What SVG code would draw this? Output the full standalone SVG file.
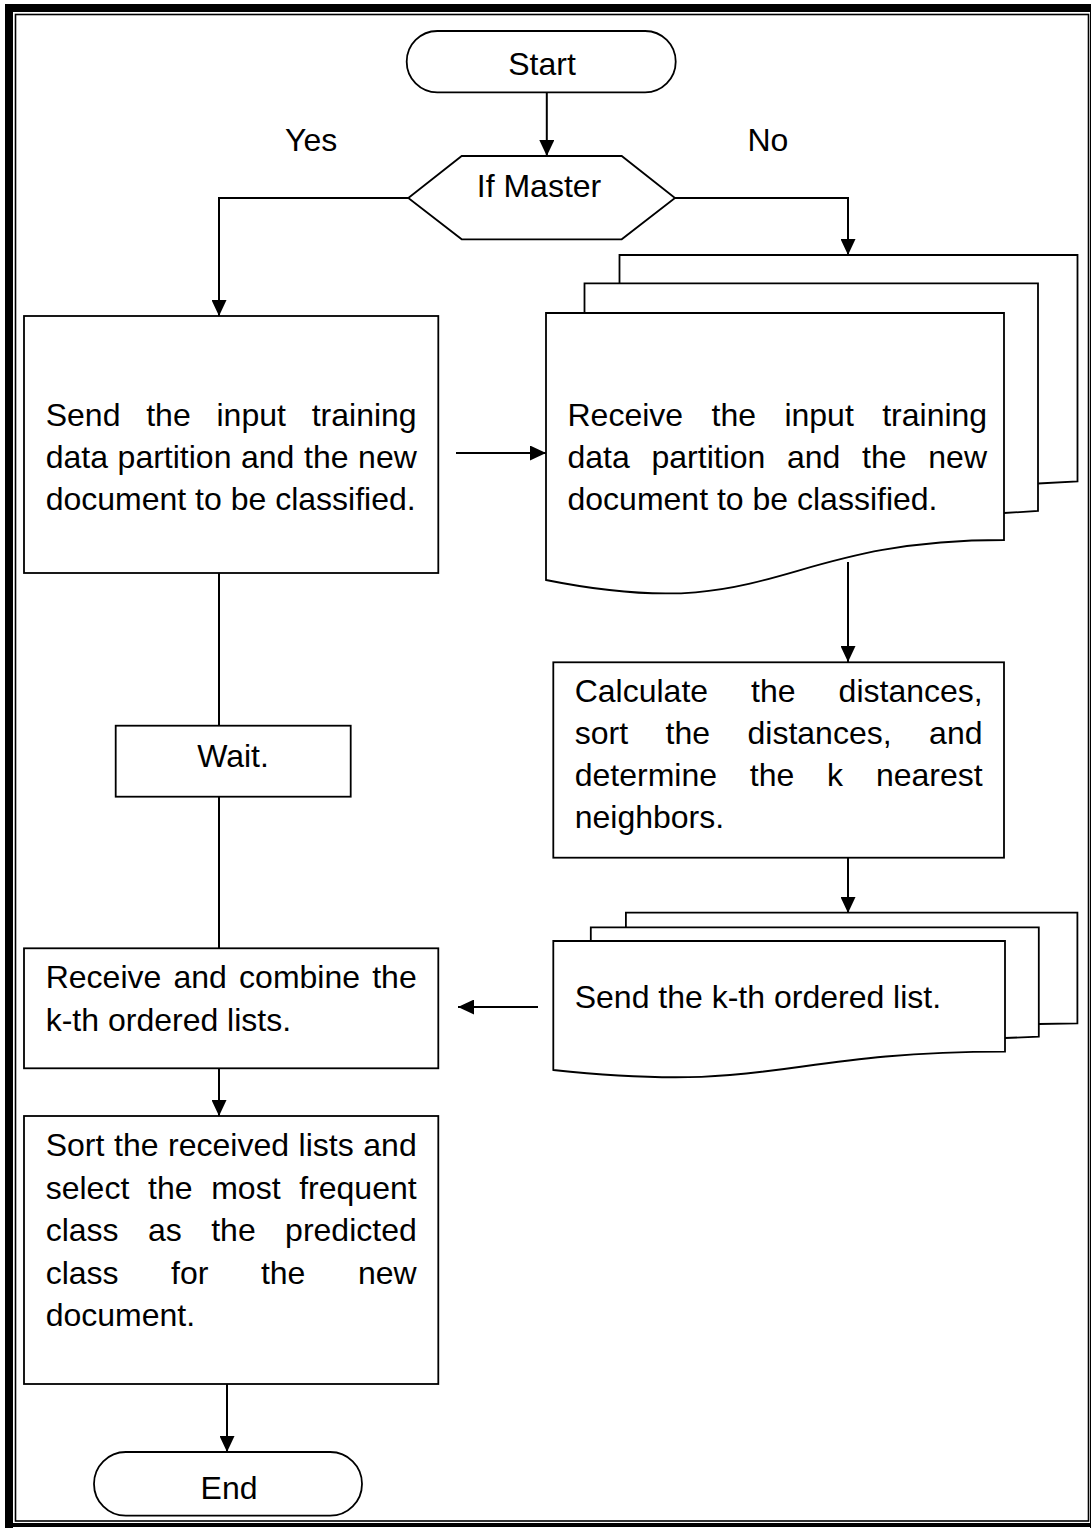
<svg xmlns="http://www.w3.org/2000/svg" width="1091" height="1528" viewBox="0 0 1091 1528">
<style>
text{font-family:"Liberation Sans",Arial,sans-serif;font-size:32px;fill:#000}
.s{fill:#fff;stroke:#000;stroke-width:1.8}
.c{fill:none;stroke:#000;stroke-width:2}
.m{text-anchor:middle}
</style>
<defs>
<marker id="ah" markerUnits="userSpaceOnUse" markerWidth="16" markerHeight="15" refX="16" refY="7.5" orient="auto">
<path d="M0,0 L16,7.5 L0,15 Z" fill="#000"/>
</marker>
</defs>
<rect width="1091" height="1528" fill="#fff"/>
<g id="frame">
<rect x="5" y="4" width="8" height="1524" fill="#000"/>
<rect x="5" y="4" width="1086" height="8" fill="#000"/>
<rect x="1090" y="4" width="1" height="1524" fill="#000"/>
<rect x="5" y="1523" width="1086" height="4" fill="#000"/>
<rect x="15.5" y="14.5" width="1073" height="1506.5" fill="none" stroke="#000" stroke-width="1.6"/>
</g>
<g id="connectors">
<line class="c" x1="546.8" y1="92" x2="546.8" y2="156" marker-end="url(#ah)"/>
<polyline class="c" points="408,198 219,198 219,316" marker-end="url(#ah)"/>
<polyline class="c" points="675,198 848,198 848,255" marker-end="url(#ah)"/>
<line class="c" x1="456" y1="453" x2="546" y2="453" marker-end="url(#ah)"/>
<line class="c" x1="848" y1="562" x2="848" y2="662" marker-end="url(#ah)"/>
<line class="c" x1="848" y1="858" x2="848" y2="913" marker-end="url(#ah)"/>
<line class="c" x1="538" y1="1007" x2="458" y2="1007" marker-end="url(#ah)"/>
<line class="c" x1="219" y1="573" x2="219" y2="726"/>
<line class="c" x1="219" y1="797" x2="219" y2="948"/>
<line class="c" x1="219" y1="1068" x2="219" y2="1116" marker-end="url(#ah)"/>
<line class="c" x1="227" y1="1384" x2="227" y2="1452" marker-end="url(#ah)"/>
</g>
<text x="285" y="151">Yes</text>
<text x="747.5" y="151">No</text>
<g id="start">
<rect class="s" x="406.7" y="31" width="269" height="61.3" rx="30.6"/>
<text class="m" x="542" y="75">Start</text>
</g>
<g id="decision">
<polygon class="s" points="461.7,156 621.7,156 675,198 621.7,239.3 461.7,239.3 408.3,198"/>
<text class="m" x="539" y="197">If Master</text>
</g>
<g id="send">
<rect class="s" x="24" y="316" width="414.3" height="257"/>
<text y="426"><tspan x="45.7">Send</tspan><tspan x="146.2">the</tspan><tspan x="216.5">input</tspan><tspan x="311.7">training</tspan></text>
<text y="468"><tspan x="45.7">data</tspan><tspan x="117.6">partition</tspan><tspan x="241">and</tspan><tspan x="304">the</tspan><tspan x="358.1">new</tspan></text>
<text x="45.7" y="510">document to be classified.</text>
</g>
<g id="receive-docs">
<path class="s" d="M619.5,283.3 V255 H1077.5 V481.5 L1038,483.5"/>
<path class="s" d="M584.5,313 V283.3 H1038 V511 L1004,513"/>
<path class="s" d="M546,313 H1004 V540 C775,540 775,626 546,580 Z"/>
<text y="426"><tspan x="567.5">Receive</tspan><tspan x="711.5">the</tspan><tspan x="784.4">input</tspan><tspan x="882.2">training</tspan></text>
<text y="468"><tspan x="567.5">data</tspan><tspan x="651.5">partition</tspan><tspan x="787">and</tspan><tspan x="862.1">the</tspan><tspan x="928.3">new</tspan></text>
<text x="567.5" y="510">document to be classified.</text>
</g>
<g id="calculate">
<rect class="s" x="553.3" y="662.3" width="450.7" height="195.4"/>
<text y="702"><tspan x="574.7">Calculate</tspan><tspan x="751.1">the</tspan><tspan x="838.6">distances,</tspan></text>
<text y="744"><tspan x="574.7">sort</tspan><tspan x="665.5">the</tspan><tspan x="747.5">distances,</tspan><tspan x="929.1">and</tspan></text>
<text y="786"><tspan x="574.7">determine</tspan><tspan x="749.8">the</tspan><tspan x="827.1">k</tspan><tspan x="875.9">nearest</tspan></text>
<text x="574.7" y="828">neighbors.</text>
</g>
<g id="send-list-docs">
<path class="s" d="M625.9,927.3 V912.7 H1077.4 V1023.3 L1038.8,1024"/>
<path class="s" d="M590.8,941 V927.3 H1038.8 V1036.7 L1005,1038"/>
<path class="s" d="M553.3,941 H1005 V1051.7 C779,1051.7 779,1093.8 553.3,1070 Z"/>
<text x="574.7" y="1008">Send the k-th ordered list.</text>
</g>
<g id="wait">
<rect class="s" x="115.7" y="725.7" width="235" height="71"/>
<text class="m" x="233" y="767">Wait.</text>
</g>
<g id="combine">
<rect class="s" x="24" y="948.3" width="414.3" height="120"/>
<text y="988"><tspan x="45.7">Receive</tspan><tspan x="173.5">and</tspan><tspan x="239.1">combine</tspan><tspan x="372.2">the</tspan></text>
<text x="45.7" y="1031">k-th ordered lists.</text>
</g>
<g id="sort">
<rect class="s" x="24" y="1116" width="414.3" height="268"/>
<text y="1156"><tspan x="45.7">Sort</tspan><tspan x="114">the</tspan><tspan x="168.1">received</tspan><tspan x="298.6">lists</tspan><tspan x="363.3">and</tspan></text>
<text y="1198.5"><tspan x="45.7">select</tspan><tspan x="148">the</tspan><tspan x="211.2">most</tspan><tspan x="299.2">frequent</tspan></text>
<text y="1241"><tspan x="45.7">class</tspan><tspan x="148">as</tspan><tspan x="211.2">the</tspan><tspan x="285.1">predicted</tspan></text>
<text y="1283.5"><tspan x="45.7">class</tspan><tspan x="171.1">for</tspan><tspan x="260.9">the</tspan><tspan x="357.9">new</tspan></text>
<text x="45.7" y="1326">document.</text>
</g>
<g id="end">
<rect class="s" x="94" y="1452" width="268" height="63.7" rx="31.8"/>
<text class="m" x="229" y="1499">End</text>
</g>
</svg>
